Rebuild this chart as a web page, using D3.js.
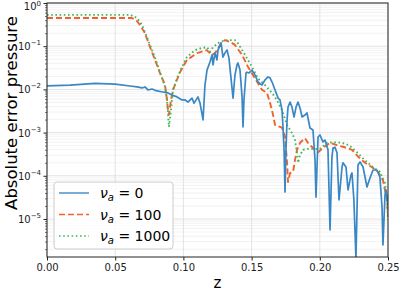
<!DOCTYPE html>
<html>
<head>
<meta charset="utf-8">
<script src="https://cdn.jsdelivr.net/npm/d3@7"></script>
<style>
  body { margin: 0; background: #fff; }
  svg { display: block; font-family: "DejaVu Sans", sans-serif; }
</style>
</head>
<body>
<svg id="chart" width="399" height="291"></svg>
<script>
// error curves, [z, absolute error]
const nu0 = [
  [0, 1.2e-2], [0.0169, 1.26e-2], [0.0352, 1.38e-2], [0.0499, 1.33e-2], [0.0609, 1.2e-2],
  [0.066, 1.14e-2], [0.0697, 1.08e-2], [0.0718, 1.14e-2], [0.074, 9.7e-3], [0.077, 1.02e-2],
  [0.0806, 9.2e-3], [0.085, 8.7e-3], [0.0887, 8.3e-3], [0.0916, 7.4e-3], [0.0953, 6.7e-3],
  [0.099, 5.7e-3], [0.1012, 5.7e-3], [0.1034, 5.1e-3], [0.1063, 6.3e-3], [0.1078, 4.8e-3],
  [0.1107, 6.7e-3], [0.1122, 4.8e-3], [0.1144, 1.96e-3], [0.1158, 1.26e-2], [0.1173, 2.8e-2],
  [0.1195, 4.3e-2], [0.121, 6.3e-2], [0.1217, 3.7e-2], [0.1232, 7.0e-2], [0.1246, 4.8e-2],
  [0.1254, 8.2e-2], [0.1276, 0.119], [0.129, 5.6e-2], [0.1305, 7.0e-2], [0.132, 8.2e-2],
  [0.1334, 5.3e-2], [0.1364, 6.3e-3], [0.1378, 2.15e-2], [0.1393, 3.7e-2], [0.14, 4.1e-2],
  [0.1415, 2.8e-2], [0.143, 6.7e-3], [0.1437, 1.35e-3], [0.1444, 5.7e-3], [0.1459, 2.4e-2],
  [0.1466, 2.5e-2], [0.1481, 2.4e-2], [0.1503, 2.8e-2], [0.1525, 2.15e-2], [0.1547, 1.48e-2],
  [0.1576, 1.26e-2], [0.1598, 1.65e-2], [0.162, 1.94e-2], [0.1635, 1.85e-2], [0.165, 1.48e-2],
  [0.1672, 9.7e-3], [0.1694, 6.3e-3], [0.1708, 5.7e-3], [0.1723, 3.3e-3], [0.173, 1.35e-3],
  [0.1738, 4.0e-4], [0.1745, 4.2e-5], [0.1752, 4.0e-4], [0.176, 1.96e-3], [0.1767, 3.9e-3],
  [0.1782, 5.1e-3], [0.1796, 3.9e-3], [0.1811, 2.3e-3], [0.1826, 3.9e-3], [0.184, 5.1e-3],
  [0.1855, 3.7e-3], [0.187, 2.3e-3], [0.1891, 2.55e-3], [0.1906, 2.85e-3], [0.1928, 1.28e-3],
  [0.195, 1.15e-3], [0.1965, 2.3e-4], [0.1972, 3.2e-5], [0.1987, 7.9e-4], [0.2001, 8.8e-4],
  [0.2023, 6.1e-4], [0.2038, 6.7e-4], [0.206, 4.0e-4], [0.2075, 5.6e-6], [0.2089, 2.7e-4],
  [0.2097, 4.4e-4], [0.2111, 4.6e-4], [0.2126, 3.4e-4], [0.2141, 2.75e-5], [0.2163, 1.6e-4],
  [0.217, 2.0e-4], [0.2192, 1.6e-4], [0.2207, 4.7e-5], [0.2229, 1.05e-4], [0.2236, 1.16e-4],
  [0.225, 2.75e-5], [0.2265, 1.2e-6], [0.228, 1.78e-4], [0.2295, 2.1e-4], [0.2317, 1.6e-4],
  [0.2346, 5.5e-5], [0.2368, 8.9e-5], [0.239, 1.36e-4], [0.2419, 1.36e-4], [0.2441, 9.3e-5],
  [0.2456, 1.9e-5], [0.2463, 2.5e-6], [0.2478, 3.6e-5], [0.2485, 4.7e-5], [0.25, 2.1e-5]
];

const nu100 = [
  [0, 0.45], [0.0623, 0.45], [0.066, 0.38], [0.0682, 0.31], [0.0718, 0.2], [0.0755, 0.096],
  [0.0792, 0.048], [0.0828, 0.024], [0.0865, 0.0126], [0.088, 0.0057], [0.0887, 0.0033],
  [0.0894, 0.0026], [0.0909, 0.0057], [0.0924, 0.0098], [0.0975, 0.025], [0.1026, 0.048],
  [0.11, 0.069], [0.117, 0.081], [0.121, 0.063], [0.1232, 0.069], [0.1283, 0.126],
  [0.1305, 0.138], [0.1342, 0.126], [0.1378, 0.107], [0.143, 0.063], [0.1474, 0.033],
  [0.1525, 0.018], [0.1576, 0.0098], [0.1613, 0.0083], [0.1635, 0.0049], [0.1657, 0.0026],
  [0.1672, 0.0015], [0.1694, 0.0014], [0.1723, 0.0013], [0.1745, 0.0008], [0.176, 0.0002],
  [0.1767, 0.000072], [0.1782, 0.000115], [0.1804, 0.000123], [0.1818, 0.00023],
  [0.1833, 0.0004], [0.1855, 0.00058], [0.1891, 0.00074], [0.1913, 0.00058], [0.195, 0.00044],
  [0.1987, 0.00035], [0.2023, 0.00044], [0.2075, 0.00058], [0.2126, 0.00051], [0.217, 0.00047],
  [0.2236, 0.0004], [0.228, 0.00028], [0.2331, 0.0002], [0.2383, 0.000158], [0.2427, 0.000123],
  [0.2463, 0.000079], [0.2493, 0.0000275], [0.25, 0.0000112]
];

const nu1000 = [
  [0, 0.53], [0.061, 0.53], [0.066, 0.45], [0.0697, 0.31], [0.0718, 0.21], [0.0755, 0.107],
  [0.0792, 0.054], [0.0828, 0.025], [0.0865, 0.0115], [0.088, 0.0056], [0.0894, 0.00135],
  [0.0909, 0.0033], [0.0924, 0.0098], [0.0953, 0.018], [0.099, 0.033], [0.1026, 0.056],
  [0.1085, 0.081], [0.1136, 0.091], [0.1173, 0.095], [0.1195, 0.074], [0.1217, 0.095],
  [0.1268, 0.126], [0.1327, 0.138], [0.1378, 0.138], [0.14, 0.117], [0.1452, 0.063],
  [0.1503, 0.033], [0.1547, 0.018], [0.1598, 0.0126], [0.165, 0.0083], [0.1686, 0.0056],
  [0.1723, 0.0033], [0.176, 0.0015], [0.1796, 0.00098], [0.1818, 0.00068], [0.1833, 0.00034],
  [0.184, 0.0002], [0.1855, 0.0003], [0.1877, 0.0004], [0.1913, 0.00042], [0.195, 0.00042],
  [0.2001, 0.00042], [0.2053, 0.00058], [0.2104, 0.0006], [0.2163, 0.00058], [0.2214, 0.00051],
  [0.2273, 0.00035], [0.233, 0.00023], [0.239, 0.000158], [0.2441, 0.000123], [0.2478, 0.000068],
  [0.2493, 0.0000275], [0.25, 0.0000095]
];

const legendValues = ["0", "100", "1000"];
const xTicks = [0, 0.05, 0.10, 0.15, 0.20, 0.25];
const yExps = [0, -1, -2, -3, -4, -5];

const width = 399, height = 291;
const margin = { top: 3, right: 11, bottom: 34, left: 47 };

const svg = d3.select("#chart");

const x = d3.scaleLinear()
  .domain([0, 0.25])
  .range([margin.left, width - margin.right]);

const y = d3.scaleLog()
  .domain([Math.pow(10, -5.88), 1])
  .range([height - margin.bottom, margin.top]);

// grid
const minorY = [];
for (let e = -6; e < 0; e++) {
  for (let k = 2; k <= 9; k++) {
    const v = k * Math.pow(10, e);
    if (v > y.domain()[0] && v < 1) minorY.push(v);
  }
}

const grid = svg.append("g");
grid.selectAll(".minor")
  .data(minorY)
  .join("line")
  .attr("x1", margin.left).attr("x2", width - margin.right)
  .attr("y1", d => y(d)).attr("y2", d => y(d))
  .attr("stroke", "#ececec")
  .attr("stroke-width", 0.7);

grid.selectAll(".majory")
  .data(yExps.map(e => Math.pow(10, e)))
  .join("line")
  .attr("x1", margin.left).attr("x2", width - margin.right)
  .attr("y1", d => y(d)).attr("y2", d => y(d))
  .attr("stroke", "#dcdcdc")
  .attr("stroke-width", 0.8);

grid.selectAll(".majorx")
  .data(xTicks)
  .join("line")
  .attr("x1", d => x(d)).attr("x2", d => x(d))
  .attr("y1", margin.top).attr("y2", height - margin.bottom)
  .attr("stroke", "#dcdcdc")
  .attr("stroke-width", 0.8);

// curves
svg.append("clipPath").attr("id", "clip")
  .append("rect")
  .attr("x", margin.left).attr("y", margin.top)
  .attr("width", width - margin.left - margin.right)
  .attr("height", height - margin.top - margin.bottom);

const line = d3.line()
  .x(d => x(d[0]))
  .y(d => y(d[1]));

const series = [
  { data: nu100, color: "#f0622a", dash: "6,3", w: 1.9 },
  { data: nu1000, color: "#43b65a", dash: "1.6,2.6", w: 1.9 },
  { data: nu0, color: "#3a87c6", dash: null, w: 1.7 }
];

const curves = svg.append("g").attr("clip-path", "url(#clip)");
series.forEach(s => {
  curves.append("path")
    .datum(s.data)
    .attr("d", line)
    .attr("fill", "none")
    .attr("stroke", s.color)
    .attr("stroke-width", s.w)
    .attr("stroke-dasharray", s.dash)
    .attr("stroke-linejoin", "round");
});

// frame
svg.append("rect")
  .attr("x", margin.left).attr("y", margin.top)
  .attr("width", width - margin.left - margin.right)
  .attr("height", height - margin.top - margin.bottom)
  .attr("fill", "none")
  .attr("stroke", "#222")
  .attr("stroke-width", 1);

// x axis
const xAxis = svg.append("g")
  .attr("transform", `translate(0, ${height - margin.bottom})`)
  .call(d3.axisBottom(x).tickValues(xTicks).tickFormat(d3.format(".2f")).tickSize(3.5).tickPadding(3));
xAxis.select(".domain").remove();
xAxis.selectAll("text").style("font-size", "10px").style("font-family", "DejaVu Sans").attr("fill", "#222");
xAxis.selectAll("line").attr("stroke", "#222");

// y axis
const yAxis = svg.append("g")
  .attr("transform", `translate(${margin.left}, 0)`)
  .call(d3.axisLeft(y).tickValues(yExps.map(e => Math.pow(10, e))).tickFormat("").tickSize(3.5));
yAxis.select(".domain").remove();
yAxis.selectAll("line").attr("stroke", "#222");

svg.append("g")
  .attr("transform", `translate(${margin.left}, 0)`)
  .call(d3.axisLeft(y).tickValues(minorY).tickFormat("").tickSize(2))
  .call(g => g.select(".domain").remove())
  .selectAll("line").attr("stroke", "#222").attr("stroke-width", 0.6);

const yLabels = svg.append("g");
yExps.forEach(e => {
  const t = yLabels.append("text")
    .attr("x", margin.left - 6)
    .attr("y", y(Math.pow(10, e)) + (e === 0 ? 6.5 : 4))
    .attr("text-anchor", "end")
    .style("font-size", "10px")
    .attr("fill", "#222");
  t.append("tspan").text("10");
  t.append("tspan").attr("dy", e === 0 ? -3.5 : -5).style("font-size", "7px").text(e === 0 ? "0" : "\u2212" + (-e));
});

// axis titles
svg.append("text")
  .attr("x", x(0.125))
  .attr("y", 288)
  .attr("text-anchor", "middle")
  .style("font-size", "15px")
  .text("z");

svg.append("text")
  .attr("transform", "translate(17, 113) rotate(-90)")
  .attr("text-anchor", "middle")
  .style("font-size", "16.5px")
  .text("Absolute error pressure");

// legend
const leg = svg.append("g").attr("transform", "translate(54, 182)");
leg.append("rect")
  .attr("width", 119).attr("height", 67)
  .attr("rx", 3)
  .attr("fill", "white").attr("fill-opacity", 0.8)
  .attr("stroke", "#cccccc");

[series[2], series[0], series[1]].forEach((s, i) => {
  const yy = 11 + i * 21.5;
  leg.append("line")
    .attr("x1", 5).attr("x2", 35)
    .attr("y1", yy).attr("y2", yy)
    .attr("stroke", s.color)
    .attr("stroke-width", s.w * 0.8)
    .attr("stroke-dasharray", s.dash);
  const t = leg.append("text")
    .attr("x", 46).attr("y", yy + 5)
    .style("font-size", "14px");
  t.append("tspan").style("font-style", "italic").text("\u03bd");
  t.append("tspan").style("font-style", "italic").style("font-size", "10px").attr("dy", 3).text("a");
  t.append("tspan").attr("dy", -3).text(" = " + legendValues[i]);
});
</script>
</body>
</html>
